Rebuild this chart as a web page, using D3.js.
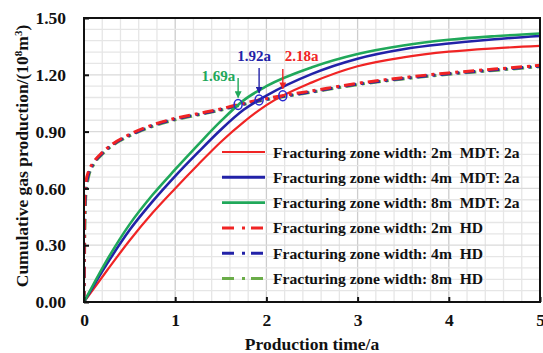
<!DOCTYPE html>
<html>
<head>
<meta charset="utf-8">
<script src="https://cdn.jsdelivr.net/npm/d3@7"></script>
<style>
  html, body { margin: 0; padding: 0; background: #fff; }
</style>
</head>
<body>
<svg id="chart" width="543" height="353"></svg>
<script>
// Production time (a) for the MDT cases
const timeMDT = [0, 0.25, 0.5, 0.75, 1, 1.25, 1.5, 1.75, 2, 2.5, 3, 3.5, 4, 4.5, 5];
const mdt2m = [0, 0.165, 0.325, 0.47, 0.60, 0.725, 0.845, 0.95, 1.04, 1.16, 1.245, 1.292, 1.322, 1.34, 1.353];
const mdt4m = [0, 0.20, 0.38, 0.53, 0.665, 0.79, 0.91, 1.015, 1.09, 1.205, 1.285, 1.335, 1.365, 1.388, 1.405];
const mdt8m = [0, 0.22, 0.41, 0.565, 0.70, 0.83, 0.955, 1.065, 1.14, 1.24, 1.31, 1.355, 1.385, 1.404, 1.418];

// Production time (a) for the HD cases
const timeHD = [0, 0.004, 0.01, 0.02, 0.05, 0.1, 0.2, 0.3, 0.5, 0.75, 1, 1.25, 1.5, 1.75, 2, 2.5, 3, 3.5, 4, 4.5, 5];
const hd2m = [0, 0.40, 0.56, 0.63, 0.69, 0.735, 0.79, 0.83, 0.885, 0.935, 0.97, 0.995, 1.02, 1.05, 1.075, 1.115, 1.155, 1.185, 1.21, 1.23, 1.25];
const hd4m = [0, 0.30, 0.50, 0.60, 0.675, 0.728, 0.785, 0.826, 0.881, 0.931, 0.966, 0.991, 1.016, 1.046, 1.071, 1.111, 1.151, 1.181, 1.206, 1.226, 1.246];
const hd8m = [0, 0.15, 0.40, 0.56, 0.66, 0.72, 0.78, 0.822, 0.877, 0.927, 0.962, 0.988, 1.013, 1.043, 1.068, 1.108, 1.148, 1.178, 1.203, 1.223, 1.243];

// Times at which the MDT curve meets the HD curve
const crossTimes = [1.69, 1.92, 2.18];
const crossLabels = ["1.69a", "1.92a", "2.18a"];

const xTicks = [0, 1, 2, 3, 4, 5];
const yTicks = [0, 0.3, 0.6, 0.9, 1.2, 1.5];

const legendLabels = [
  "Fracturing zone width: 2m  MDT: 2a",
  "Fracturing zone width: 4m  MDT: 2a",
  "Fracturing zone width: 8m  MDT: 2a",
  "Fracturing zone width: 2m  HD",
  "Fracturing zone width: 4m  HD",
  "Fracturing zone width: 8m  HD"
];

const RED = "#f02424", BLUE = "#2222a8", GREEN = "#20a85a", OLIVE = "#6aac48";
const FONT = "'Liberation Serif', 'Times New Roman', Times, serif";

const svg = d3.select("#chart");
const m = { left: 84, right: 540, top: 18, bottom: 302 };
const x = d3.scaleLinear().domain([0, 5]).range([m.left, m.right]);
const y = d3.scaleLinear().domain([0, 1.5]).range([m.bottom, m.top]);

// grid
const grid = svg.append("g");
grid.selectAll("line.vx").data(d3.range(0, 5.0001, 0.2)).join("line")
  .attr("x1", d => x(d)).attr("x2", d => x(d)).attr("y1", m.top).attr("y2", m.bottom)
  .attr("stroke", d => Math.abs(d - Math.round(d)) < 1e-6 ? "#cdcdcd" : "#e6e6e6")
  .attr("stroke-width", 1.3);
grid.selectAll("line.hy").data(d3.range(0, 1.5001, 0.06)).join("line")
  .attr("x1", m.left).attr("x2", m.right).attr("y1", d => y(d)).attr("y2", d => y(d))
  .attr("stroke", d => Math.abs(d / 0.3 - Math.round(d / 0.3)) < 1e-6 ? "#dadada" : "#e6e6e6")
  .attr("stroke-width", 1.3);

svg.append("clipPath").attr("id", "plotclip").append("rect")
  .attr("x", m.left).attr("y", m.top).attr("width", m.right - m.left).attr("height", m.bottom - m.top);

const line = d3.line().x(d => x(d[0])).y(d => y(d[1])).curve(d3.curveMonotoneX);
const plot = svg.append("g").attr("clip-path", "url(#plotclip)");

const dashDot = "11,5,3,5";
const hdSeries = [
  { v: hd8m, c: OLIVE },
  { v: hd4m, c: BLUE },
  { v: hd2m, c: RED }
];
hdSeries.forEach(s => {
  plot.append("path").datum(timeHD.map((t, i) => [t, s.v[i]]))
    .attr("d", line).attr("fill", "none").attr("stroke", s.c)
    .attr("stroke-width", 3).attr("stroke-dasharray", dashDot);
});

const mdtSeries = [
  { v: mdt2m, c: RED, w: 2.2 },
  { v: mdt4m, c: BLUE, w: 2.6 },
  { v: mdt8m, c: GREEN, w: 2.6 }
];
mdtSeries.forEach(s => {
  plot.append("path").datum(timeMDT.map((t, i) => [t, s.v[i]]))
    .attr("d", line).attr("fill", "none").attr("stroke", s.c).attr("stroke-width", s.w);
});

// crossing markers, arrows and labels
const hdAt = t => {
  const i = d3.bisectRight(timeHD, t) - 1;
  const f = (t - timeHD[i]) / (timeHD[i + 1] - timeHD[i]);
  return hd2m[i] + f * (hd2m[i + 1] - hd2m[i]);
};
const crossColors = [GREEN, BLUE, RED];
const arrowTop = [78, 68, 69];
const defs = svg.append("defs");
crossColors.forEach((c, i) => {
  defs.append("marker").attr("id", "ah" + i).attr("viewBox", "0 0 10 10")
    .attr("refX", 9).attr("refY", 5).attr("markerWidth", 7).attr("markerHeight", 7)
    .attr("markerUnits", "userSpaceOnUse").attr("orient", "auto")
    .append("path").attr("d", "M0,0 L10,5 L0,10 z").attr("fill", c);
});
crossTimes.forEach((t, i) => {
  const cx = x(t), cy = y(hdAt(t));
  svg.append("ellipse").attr("cx", cx).attr("cy", cy).attr("rx", 4).attr("ry", 5)
    .attr("fill", "none").attr("stroke", "#2a2ad0").attr("stroke-width", 1.5);
  svg.append("line").attr("x1", cx).attr("x2", cx).attr("y1", arrowTop[i]).attr("y2", cy - 7)
    .attr("stroke", crossColors[i]).attr("stroke-width", 1.4).attr("marker-end", "url(#ah" + i + ")");
});
svg.append("text").attr("x", x(crossTimes[0]) - 3).attr("y", 81).attr("text-anchor", "end")
  .style("font-size", "15px").attr("fill", GREEN).text(crossLabels[0]);
svg.append("text").attr("x", x(crossTimes[1]) - 5).attr("y", 61).attr("text-anchor", "middle")
  .style("font-size", "15px").attr("fill", BLUE).text(crossLabels[1]);
svg.append("text").attr("x", x(crossTimes[2]) + 2).attr("y", 61).attr("text-anchor", "start")
  .style("font-size", "15px").attr("fill", RED).text(crossLabels[2]);

// legend
const legendStyles = [
  { c: RED, dash: null, w: 2.2 },
  { c: BLUE, dash: null, w: 3 },
  { c: GREEN, dash: null, w: 2.6 },
  { c: RED, dash: "12,8,3,6", w: 3 },
  { c: BLUE, dash: "12,8,3,6", w: 3 },
  { c: OLIVE, dash: "12,8,3,6", w: 3 }
];
const lg = svg.append("g");
legendLabels.forEach((lab, i) => {
  const yy = 152 + i * 25.3;
  const st = legendStyles[i];
  lg.append("line").attr("x1", 222).attr("x2", 265).attr("y1", yy).attr("y2", yy)
    .attr("stroke", st.c).attr("stroke-width", st.w)
    .attr("stroke-dasharray", st.dash);
  lg.append("text").attr("x", 273).attr("y", yy + 5.5)
    .style("font-size", "15.6px").style("white-space", "pre").attr("fill", "#111").text(lab);
});

// frame
svg.append("rect").attr("x", m.left).attr("y", m.top)
  .attr("width", m.right - m.left).attr("height", m.bottom - m.top)
  .attr("fill", "none").attr("stroke", "#111").attr("stroke-width", 2);

// axes with inward ticks
const xAxis = d3.axisBottom(x).tickValues(xTicks).tickSize(-5).tickPadding(12).tickFormat(d3.format("d"));
const gx = svg.append("g").attr("transform", `translate(0,${m.bottom})`).call(xAxis);
const yAxis = d3.axisLeft(y).tickValues(yTicks).tickSize(-5).tickPadding(18).tickFormat(d3.format(".2f"));
const gy = svg.append("g").attr("transform", `translate(${m.left},0)`).call(yAxis);
[gx, gy].forEach(g => {
  g.select(".domain").remove();
  g.attr("font-family", null).attr("font-size", null);
  g.selectAll(".tick line").attr("stroke", "#111").attr("stroke-width", 2);
  g.selectAll(".tick text").style("font-size", "17.5px").attr("fill", "#111");
});
gx.selectAll(".tick text").attr("dy", "0.71em");

// axis titles
svg.append("text").attr("x", (m.left + m.right) / 2).attr("y", 350)
  .attr("text-anchor", "middle").style("font-size", "17.5px").attr("fill", "#111").text("Production time/a");

const yt = svg.append("text").attr("transform", "translate(28,156) rotate(-90)")
  .attr("text-anchor", "middle").style("font-size", "17.5px").attr("fill", "#111");
yt.append("tspan").text("Cumulative gas production/(10");
yt.append("tspan").attr("dy", -6).style("font-size", "11px").text("8");
yt.append("tspan").attr("dy", 6).text("m");
yt.append("tspan").attr("dy", -6).style("font-size", "11px").text("3");
yt.append("tspan").attr("dy", 6).text(")");

// serif bold throughout
svg.selectAll("text").style("font-family", FONT).style("font-weight", "bold");
</script>
</body>
</html>
